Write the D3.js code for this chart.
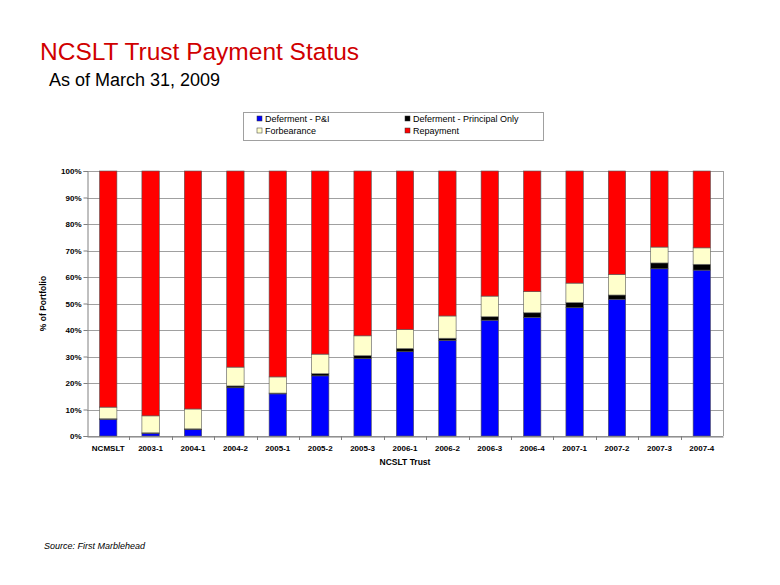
<!DOCTYPE html>
<html>
<head>
<meta charset="utf-8">
<script src="https://cdn.jsdelivr.net/npm/d3@7"></script>
<style>
  body { margin: 0; background: #fff; }
  svg { display: block; font-family: "Liberation Sans", Arial, sans-serif; }
</style>
</head>
<body>
<div id="chart"></div>
<script>
// data
const trusts = ['NCMSLT', '2003-1', '2004-1', '2004-2', '2005-1', '2005-2', '2005-3', '2006-1',
  '2006-2', '2006-3', '2006-4', '2007-1', '2007-2', '2007-3', '2007-4']
const defermentPI = [6.3, 1.0, 2.4, 18.2, 15.9, 22.7, 29.2, 31.8, 36.1, 43.7, 44.8, 48.4, 51.6, 63.1, 62.6]
const defermentPrincipal = [0.2, 0.2, 0.3, 0.7, 0.3, 0.8, 1.1, 1.2, 0.8, 1.3, 1.7, 1.9, 1.6, 2.2, 2.2]
const forbearance = [4.4, 6.4, 7.5, 7.1, 6.1, 7.4, 7.5, 7.2, 8.4, 7.8, 8.0, 7.4, 7.8, 6.0, 6.2]
const repayment = [89.1, 92.4, 89.8, 74.0, 77.7, 69.1, 62.2, 59.8, 54.7, 47.2, 45.5, 42.3, 39.0, 28.7, 29.0]
const yTicks = [0, 10, 20, 30, 40, 50, 60, 70, 80, 90, 100]

const series = [
  { name: 'Deferment - P&I', values: defermentPI, color: '#0000ff' },
  { name: 'Deferment - Principal Only', values: defermentPrincipal, color: '#000000' },
  { name: 'Forbearance', values: forbearance, color: '#ffffcc' },
  { name: 'Repayment', values: repayment, color: '#ff0000' }
]

const width = 780, height = 585
const plot = { left: 87, right: 723, top: 171, bottom: 436 }

const svg = d3.select('#chart').append('svg')
  .attr('width', width)
  .attr('height', height)

// titles
svg.append('text')
  .attr('x', 40).attr('y', 60)
  .attr('font-size', '24.5px')
  .attr('fill', '#d00000')
  .text('NCSLT Trust Payment Status')

svg.append('text')
  .attr('x', 49).attr('y', 86)
  .attr('font-size', '18px')
  .attr('fill', '#000')
  .text('As of March 31, 2009')

// scales
const x = d3.scaleBand()
  .domain(trusts)
  .range([plot.left, plot.right])
  .paddingInner(0.59)
  .paddingOuter(0.295)

const y = d3.scaleLinear()
  .domain([0, 100])
  .range([plot.bottom, plot.top])

// grid
svg.append('g')
  .selectAll('line')
  .data(yTicks)
  .enter().append('line')
  .attr('x1', plot.left).attr('x2', plot.right)
  .attr('y1', d => Math.round(y(d)) + 0.5).attr('y2', d => Math.round(y(d)) + 0.5)
  .attr('stroke', '#a0a0a0')
  .attr('stroke-width', 1)

svg.append('line')
  .attr('x1', plot.right + 0.5).attr('x2', plot.right + 0.5)
  .attr('y1', plot.top).attr('y2', plot.bottom)
  .attr('stroke', '#a0a0a0')

// stacked bars
const rows = trusts.map((t, i) => {
  const r = { trust: t }
  series.forEach(s => { r[s.name] = s.values[i] })
  return r
})
const stack = d3.stack().keys(series.map(s => s.name))(rows)

svg.append('g')
  .selectAll('g')
  .data(stack)
  .enter().append('g')
  .attr('fill', (d, i) => series[i].color)
  .selectAll('rect')
  .data(d => d)
  .enter().append('rect')
  .attr('x', d => x(d.data.trust))
  .attr('y', d => y(d[1]))
  .attr('width', x.bandwidth())
  .attr('height', d => y(d[0]) - y(d[1]))
  .attr('stroke', '#555')
  .attr('stroke-width', 0.6)

// y axis
const yAxis = d3.axisLeft(y)
  .tickValues(yTicks)
  .tickSize(4)
  .tickFormat(d => d + '%')

svg.append('g')
  .attr('transform', 'translate(' + (plot.left + 0.5) + ',0)')
  .call(yAxis)
  .call(g => g.select('.domain').attr('stroke', '#808080'))
  .call(g => g.selectAll('.tick line').attr('stroke', '#808080'))
  .call(g => g.selectAll('text')
    .attr('font-size', '8px')
    .attr('font-weight', 'bold')
    .attr('font-family', '"Liberation Sans", Arial, sans-serif')
    .attr('fill', '#000')
    .attr('x', -6))

// x axis
const xAxis = d3.axisBottom(x).tickSize(0).tickPadding(9)

svg.append('g')
  .attr('transform', 'translate(0,' + (plot.bottom + 0.5) + ')')
  .call(xAxis)
  .call(g => g.select('.domain').attr('stroke', '#808080'))
  .call(g => g.selectAll('text')
    .attr('font-size', '8px')
    .attr('font-weight', 'bold')
    .attr('font-family', '"Liberation Sans", Arial, sans-serif')
    .attr('fill', '#000'))

// category boundary ticks
svg.append('g')
  .selectAll('line')
  .data(trusts.slice(1))
  .enter().append('line')
  .attr('x1', d => Math.round(x(d) - x.step() * x.paddingInner() / 2 * (1 / (1 - 0)) ) + 0.5)
  .attr('x2', d => Math.round(x(d) - x.step() * x.paddingInner() / 2) + 0.5)
  .attr('y1', plot.bottom)
  .attr('y2', plot.bottom + 4)
  .attr('stroke', '#808080')

// axis titles
svg.append('text')
  .attr('x', (plot.left + plot.right) / 2)
  .attr('y', 465)
  .attr('text-anchor', 'middle')
  .attr('font-size', '8.5px')
  .attr('font-weight', 'bold')
  .text('NCSLT Trust')

svg.append('text')
  .attr('transform', 'translate(46,' + ((plot.top + plot.bottom) / 2) + ') rotate(-90)')
  .attr('text-anchor', 'middle')
  .attr('font-size', '8.5px')
  .attr('font-weight', 'bold')
  .text('% of Portfolio')

// legend
const legend = svg.append('g')
svg.append('rect')
  .attr('x', 243.5).attr('y', 112.5)
  .attr('width', 300).attr('height', 28)
  .attr('fill', '#fff')
  .attr('stroke', '#a0a0a0')

const item = legend.selectAll('g')
  .data(series)
  .enter().append('g')
  .attr('transform', (d, i) => 'translate(' + (i % 2 === 0 ? 257 : 405) + ',' + (i < 2 ? 119 : 131) + ')')

item.append('rect')
  .attr('x', 0).attr('y', -3)
  .attr('width', 5).attr('height', 5)
  .attr('fill', d => d.color)
  .attr('stroke', '#333')
  .attr('stroke-width', 0.5)

item.append('text')
  .attr('x', 8).attr('y', 3)
  .attr('font-size', '9px')
  .text(d => d.name)

legend.raise()

// source
svg.append('text')
  .attr('x', 44).attr('y', 549)
  .attr('font-size', '9px')
  .attr('font-style', 'italic')
  .text('Source: First Marblehead')
</script>
</body>
</html>
